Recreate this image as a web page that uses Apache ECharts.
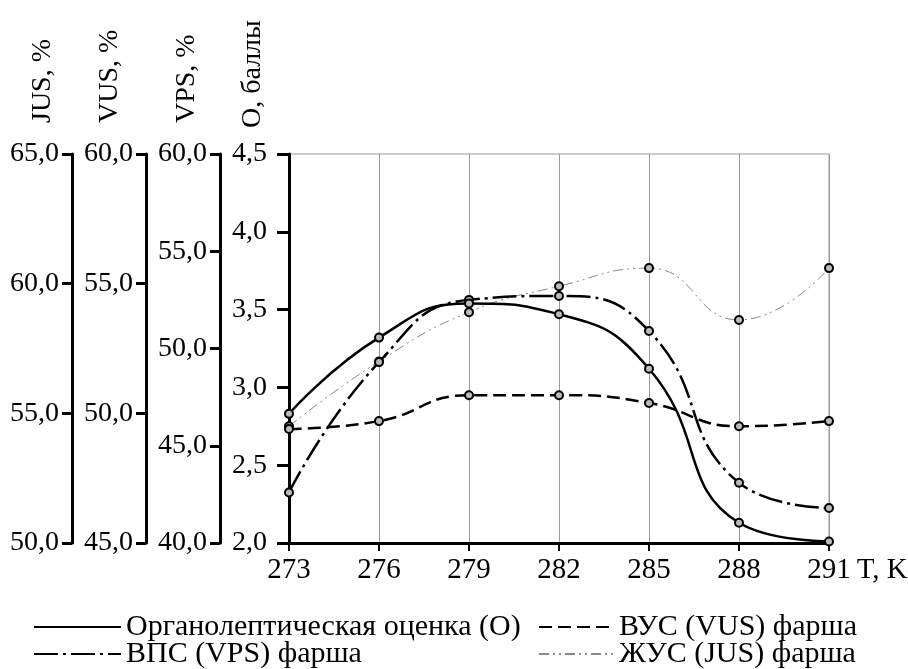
<!DOCTYPE html>
<html>
<head>
<meta charset="utf-8">
<script src="https://cdn.jsdelivr.net/npm/echarts@6/dist/echarts.min.js"></script>
<style>
  html, body { margin: 0; padding: 0; background: #fff; }
  #chart { width: 908px; height: 669px; }
</style>
</head>
<body>
<div id="chart"></div>
<script>
// температура, K
const categories = ['273', '276', '279', '282', '285', '288', '291'];

// органолептическая оценка, баллы
const organoleptic = [2.83, 3.32, 3.54, 3.47, 3.12, 2.13, 2.01];
// ВПС, %
const vps = [42.6, 49.3, 52.5, 52.7, 50.9, 43.1, 41.8];
// ВУС, %
const vus = [49.4, 49.7, 50.7, 50.7, 50.4, 49.5, 49.7];
// ЖУС, %
const jus = [54.5, 57.0, 58.9, 59.9, 60.6, 58.6, 60.6];

// шкалы: [min, max, шаг]
const scaleO = [2.0, 4.5, 0.5];
const scaleVPS = [40, 60, 5];
const scaleVUS = [45, 60, 5];
const scaleJUS = [50, 65, 5];

const names = ['Органолептическая оценка (О)', 'ВПС (VPS) фарша', 'ВУС (VUS) фарша', 'ЖУС (JUS) фарша'];

const FONT = '"Liberation Serif", "Times New Roman", serif';
const fmt = v => v.toFixed(1).replace('.', ',');

function yAx(scale, offset, margin, tickLen) {
    return {
        type: 'value',
        position: 'left',
        offset: offset,
        min: scale[0],
        max: scale[1],
        interval: scale[2],
        axisLine: { show: true, lineStyle: { color: '#000', width: 3 } },
        axisTick: { show: true, length: tickLen, lineStyle: { color: '#000', width: 3 } },
        axisLabel: { margin: margin, fontSize: 28, fontFamily: FONT, color: '#000', formatter: fmt },
        splitLine: { show: false }
    };
}

function axisName(text, x, y) {
    return {
        type: 'text', x: x, y: y, rotation: Math.PI / 2,
        style: {
            text: text, fontSize: 28, fontFamily: FONT, fill: '#000',
            textAlign: 'left', align: 'left',
            textVerticalAlign: 'middle', verticalAlign: 'middle'
        }
    };
}

// одна легенда на каждую подпись, чтобы колонки были выровнены
function legendItem(name, left, top, w) {
    return {
        data: [name],
        left: left, top: top,
        itemWidth: w, itemHeight: 14,
        selectedMode: false,
        itemStyle: { opacity: 0 },
        textStyle: { fontSize: 30, lineHeight: 28, fontFamily: FONT, color: '#000' }
    };
}

const marker = { color: '#bbb', borderColor: '#000', borderWidth: 2 };

const chart = echarts.init(document.getElementById('chart'));
const option = {
    animation: false,
    backgroundColor: '#fff',
    grid: {
        left: 289, right: 79, top: 154, bottom: 126,
        outerBoundsMode: 'none', containLabel: false,
        show: true, borderColor: '#999', borderWidth: 1
    },
    xAxis: {
        type: 'category',
        data: categories,
        boundaryGap: false,
        name: 'T, K',
        nameLocation: 'end',
        nameGap: 12,
        nameTextStyle: { fontSize: 29, fontFamily: FONT, color: '#000', verticalAlign: 'top', padding: [13, 0, 0, 0] },
        axisLine: { lineStyle: { color: '#000', width: 3 } },
        axisTick: { show: true, length: 8, lineStyle: { color: '#000', width: 2 } },
        axisLabel: { margin: 13, fontSize: 29, fontFamily: FONT, color: '#000' },
        splitLine: { show: true, lineStyle: { color: '#999', width: 1 } }
    },
    yAxis: [
        yAx(scaleO, 0, 22, 12),
        yAx(scaleVPS, 69, 13, 10),
        yAx(scaleVUS, 143, 13, 10),
        yAx(scaleJUS, 217, 13, 10)
    ],
    legend: [
        legendItem(names[0], 28, 607, 87),
        legendItem(names[1], 28, 634, 87),
        legendItem(names[2], 533, 607, 75),
        legendItem(names[3], 533, 634, 75)
    ],
    graphic: [
        axisName('JUS, %', 43, 123),
        axisName('VUS, %', 110, 123),
        axisName('VPS, %', 187, 123),
        axisName('О, баллы', 253, 128)
    ],
    series: [
        {
            name: names[3], type: 'line', yAxisIndex: 3, data: jus, smooth: 0.5,
            symbol: 'circle', symbolSize: 8, itemStyle: marker,
            lineStyle: { color: '#888', width: 1, type: [10, 4, 2, 4, 2, 4] }
        },
        {
            name: names[2], type: 'line', yAxisIndex: 2, data: vus, smooth: 0.5,
            symbol: 'circle', symbolSize: 8, itemStyle: marker,
            lineStyle: { color: '#000', width: 2.5, type: [13, 6] }
        },
        {
            name: names[1], type: 'line', yAxisIndex: 1, data: vps, smooth: 0.5,
            symbol: 'circle', symbolSize: 8, itemStyle: marker,
            lineStyle: { color: '#000', width: 2.5, type: [24, 5, 3, 5] }
        },
        {
            name: names[0], type: 'line', yAxisIndex: 0, data: organoleptic, smooth: 0.5,
            symbol: 'circle', symbolSize: 8, itemStyle: marker,
            lineStyle: { color: '#000', width: 2.5 }
        }
    ]
};
chart.setOption(option);
</script>
</body>
</html>
